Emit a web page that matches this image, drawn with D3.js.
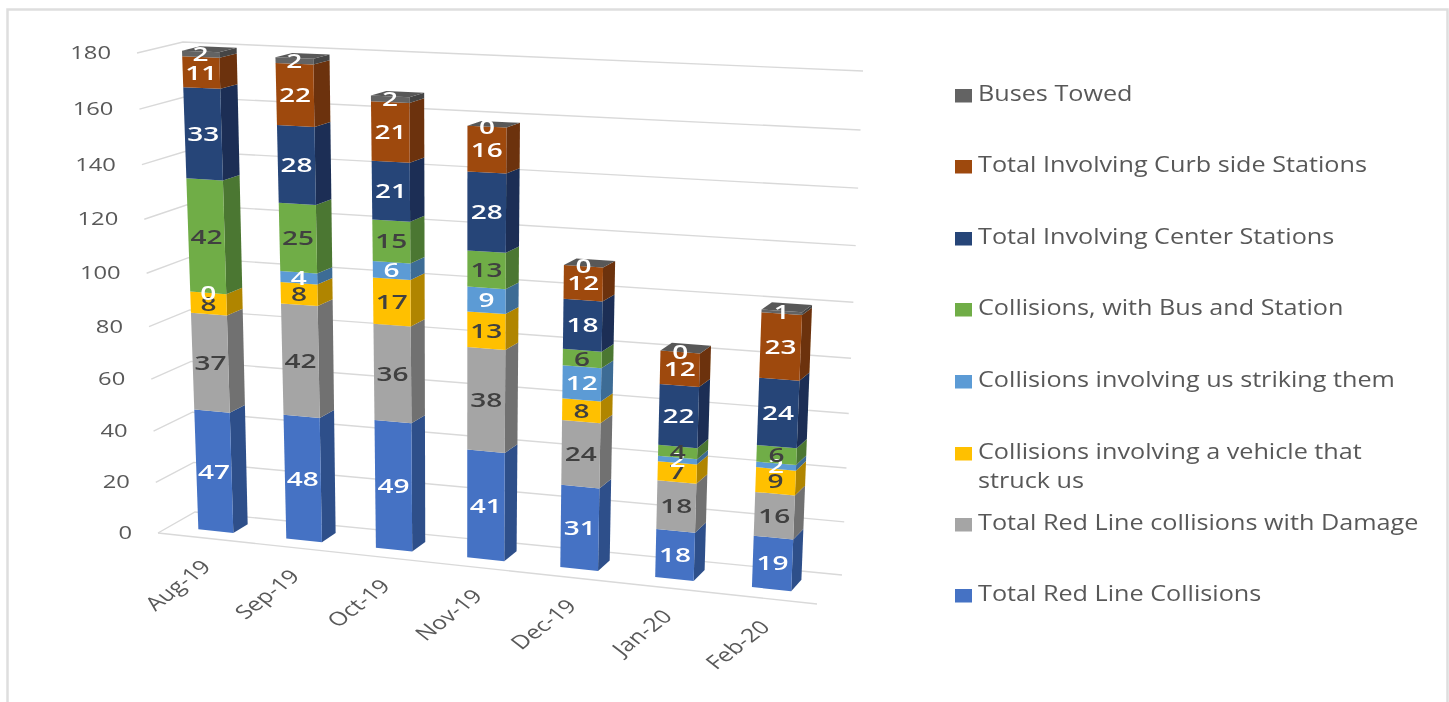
<!DOCTYPE html>
<html>
<head>
<meta charset="utf-8">
<script src="https://d3js.org/d3.v7.min.js"></script>
<style>
  html, body { margin: 0; padding: 0; background: #fff; overflow: hidden; }
  text { font-family: "Open Sans", sans-serif; }
</style>
</head>
<body>
<div class="chart"></div>
<script>
const width = 1449;
const height = 702;

const months = ['Aug-19', 'Sep-19', 'Oct-19', 'Nov-19', 'Dec-19', 'Jan-20', 'Feb-20'];
const yTicks = [0, 20, 40, 60, 80, 100, 120, 140, 160, 180];

// series, bottom of the stack first
const redLine = [47, 48, 49, 41, 31, 18, 19];
const redLineDamage = [37, 42, 36, 38, 24, 18, 16];
const vehicleStruckUs = [8, 8, 17, 13, 8, 7, 9];
const usStrikingThem = [0, 4, 6, 9, 12, 2, 2];
const busAndStation = [42, 25, 15, 13, 6, 4, 6];
const centerStations = [33, 28, 21, 28, 18, 22, 24];
const curbsideStations = [11, 22, 21, 16, 12, 12, 23];
const busesTowed = [2, 2, 2, 0, 0, 0, 1];

const seriesNames = [
    'Total Red Line Collisions',
    'Total Red Line collisions with Damage',
    'Collisions involving a vehicle that struck us',
    'Collisions involving us striking them',
    'Collisions, with Bus and Station',
    'Total Involving Center Stations',
    'Total Involving Curb side Stations',
    'Buses Towed'
];
const seriesValues = [redLine, redLineDamage, vehicleStruckUs, usStrikingThem,
    busAndStation, centerStations, curbsideStations, busesTowed];

const frontColors = ['#4472c4', '#a5a5a5', '#ffc000', '#5b9bd5', '#70ad47', '#264478', '#9e480e', '#636363'];
const sideColors = ['#2e4f8a', '#717171', '#b08500', '#3e6c95', '#4c7731', '#1a2f54', '#6c320a', '#444444'];
const labelColors = ['#fff', '#404040', '#404040', '#fff', '#404040', '#fff', '#fff', '#fff'];

const svg = d3.select('.chart').append('svg')
    .attr('width', width)
    .attr('height', height)
    .attr('viewBox', `0 0 ${width} ${height}`);

// slight softening, the source is a scaled up screenshot
const defs = svg.append('defs');
defs.append('filter').attr('id', 'soft')
    .append('feGaussianBlur').attr('stdDeviation', 0.65);
const root = svg.append('g').attr('filter', 'url(#soft)');

/*      frame around the picture      */
root.append('path')
    .attr('d', 'M7.5,702 V9.5 H1447.5 V702')
    .attr('fill', 'none')
    .attr('stroke', '#dedede')
    .attr('stroke-width', 2.5);

/*      scales      */
const band = d3.scaleBand().domain(months).range([0.004, 0.994]).paddingInner(0.6).paddingOuter(0.3);
const yScale = d3.scaleLinear().domain([0, 180]).range([0, 1]);
const depth = d3.scaleLinear().domain([0, 1]).range([0, 1]);

// projective warp, things get a bit bigger to the right and to the top
const warp = (u, r) => u / (u + (1 - u) * r);

// corners of the plot box on the screen
const box = {
    fbl: [158, 533], fbr: [817, 604], bbl: [195, 512], bbr: [842, 575],
    ftl: [137, 53], ftr: [840, 80], btl: [183, 42], btr: [863, 71]
};
const mix = (a, b, k) => [a[0] + (b[0] - a[0]) * k, a[1] + (b[1] - a[1]) * k];

function project(u, d, value) {
    const t = warp(u, 1.07);
    const v = warp(yScale(value), 1.06);
    const bottom = mix(mix(box.fbl, box.fbr, t), mix(box.bbl, box.bbr, t), depth(d));
    const top = mix(mix(box.ftl, box.ftr, t), mix(box.btl, box.btr, t), depth(d));
    return mix(bottom, top, v);
}

const line = d3.line();

/*      grid on the two walls      */
const grid = root.append('g').attr('fill', 'none').attr('stroke', '#d9d9d9').attr('stroke-width', 1.4);
grid.selectAll('path')
    .data(yTicks)
    .enter()
    .append('path')
    .attr('d', d => line([project(0, 0, d), project(0, 1, d), project(1, 1, d)]));
grid.append('path').attr('d', line([project(0, 0, 0), project(1, 0, 0)]));

/*      y axis labels      */
root.append('g').selectAll('text')
    .data(yTicks)
    .enter()
    .append('text')
    .attr('transform', d => {
        const p = project(0, 0, d);
        return `translate(${p[0] - 26},${p[1] + 6}) scale(1.25,1)`;
    })
    .attr('text-anchor', 'end')
    .attr('font-size', 19)
    .attr('fill', '#595959')
    .text(d => d);

/*      x axis labels, the source is stretched sideways so they lean under 45 degrees      */
root.append('g').selectAll('text')
    .data(months)
    .enter()
    .append('text')
    .attr('transform', d => {
        const p = project(band(d) + band.bandwidth() / 2, 0, 0);
        return `translate(${p[0] + 8},${p[1] + 30}) scale(1.3,1) rotate(-45)`;
    })
    .attr('text-anchor', 'end')
    .attr('font-size', 19)
    .attr('fill', '#595959')
    .text(d => d);

/*      stacked 3d bars      */
const rows = months.map((m, i) => {
    const row = { month: m };
    seriesNames.forEach((s, k) => { row[s] = seriesValues[k][i]; });
    return row;
});
const stacked = d3.stack().keys(seriesNames)(rows);

const dFront = 0.32;
const dBack = 0.72;

const bars = root.append('g');
stacked.forEach((layer, k) => {
    const layerG = bars.append('g');
    layer.forEach((seg, i) => {
        const x0 = band(months[i]);
        const x1 = x0 + band.bandwidth();
        if (seg[1] > seg[0]) {
            layerG.append('path')
                .attr('d', line([project(x1, dFront, seg[0]), project(x1, dBack, seg[0]),
                    project(x1, dBack, seg[1]), project(x1, dFront, seg[1])]) + 'Z')
                .attr('fill', sideColors[k]);
            layerG.append('path')
                .attr('d', line([project(x0, dFront, seg[0]), project(x1, dFront, seg[0]),
                    project(x1, dFront, seg[1]), project(x0, dFront, seg[1])]) + 'Z')
                .attr('fill', frontColors[k]);
        }
    });
});

// roof of every bar
bars.append('g').selectAll('path')
    .data(months)
    .enter()
    .append('path')
    .attr('d', (m, i) => {
        const x0 = band(m);
        const x1 = x0 + band.bandwidth();
        const top = stacked[stacked.length - 1][i][1];
        return line([project(x0, dFront, top), project(x1, dFront, top),
            project(x1, dBack, top), project(x0, dBack, top)]) + 'Z';
    })
    .attr('fill', '#595959');

/*      value labels      */
stacked.forEach((layer, k) => {
    root.append('g').selectAll('text')
        .data(layer)
        .enter()
        .append('text')
        .attr('transform', (seg, i) => {
            const p = project(band(months[i]) + band.bandwidth() * 0.5, dFront, (seg[0] + seg[1]) / 2);
            return `translate(${p[0]},${p[1] + 7}) scale(1.4,1)`;
        })
        .attr('text-anchor', 'middle')
        .attr('font-size', 20)
        .attr('font-weight', 600)
        .attr('fill', labelColors[k])
        .text(seg => seg[1] - seg[0]);
});

/*      legend, reads from the top of the stack downwards      */
const legendRows = [
    { k: 7, y: 93, lines: ['Buses Towed'] },
    { k: 6, y: 164, lines: ['Total Involving Curb side Stations'] },
    { k: 5, y: 236, lines: ['Total Involving Center Stations'] },
    { k: 4, y: 307, lines: ['Collisions, with Bus and Station'] },
    { k: 3, y: 379, lines: ['Collisions involving us striking them'] },
    { k: 2, y: 451, lines: ['Collisions involving a vehicle that', 'struck us'] },
    { k: 1, y: 522, lines: ['Total Red Line collisions with Damage'] },
    { k: 0, y: 593, lines: ['Total Red Line Collisions'] }
];
const legend = root.append('g').selectAll('g')
    .data(legendRows)
    .enter()
    .append('g')
    .attr('transform', d => `translate(955,${d.y})`);
legend.append('rect')
    .attr('y', -4)
    .attr('width', 17)
    .attr('height', 13.5)
    .attr('fill', d => frontColors[d.k]);
legend.each(function (d) {
    d3.select(this).selectAll('text')
        .data(d.lines)
        .enter()
        .append('text')
        .attr('transform', (l, i) => `translate(23,${8 + i * 28.5}) scale(1.2,1)`)
        .attr('font-size', 21)
        .attr('fill', '#595959')
        .text(l => l);
});
</script>
</body>
</html>
